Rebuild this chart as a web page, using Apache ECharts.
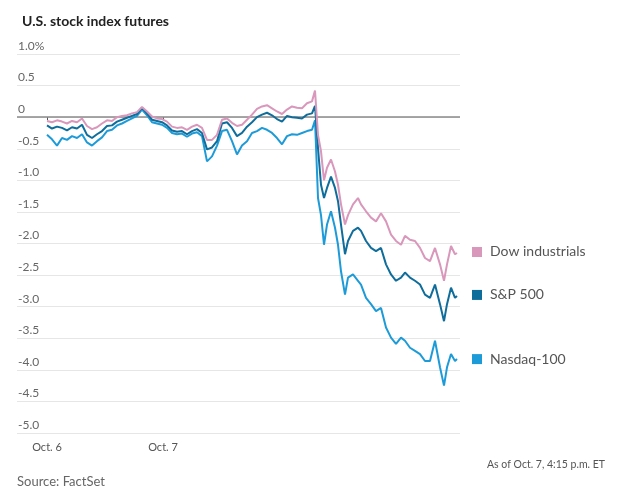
<!DOCTYPE html>
<html><head><meta charset="utf-8">
<script src="https://cdn.jsdelivr.net/npm/echarts@6/dist/echarts.min.js"></script>
<style>html,body{margin:0;padding:0;background:#fff}#c{width:630px;height:489px}</style>
</head><body><div id="c"></div>
<script>
// session time of each sample (arbitrary units, 0 = Oct. 6)
const times = [0,5,10,15,20,25,30,35,40,45,50,55,60,65,70,75,80,85,90,95,
 100,105,110,115,120,125,130,135,140,145,150,155,160,165,170,175,180,185,190,195,
 200,205,210,215,220,225,230,235,240,245,250,255,260,
 265,268,271,274,277,280,284,288,291,294,298,301,306,311,314,319,324,329,334,339,
 344,349,354,358,363,368,373,378,383,388,393,397,400,404,408,410];
const tickTimes = [0, 116];
const tickLabels = ['Oct. 6', 'Oct. 7'];
const seriesNames = ['Dow industrials', 'S&P 500', 'Nasdaq-100'];
const dow = [-0.06,-0.08,-0.05,-0.07,-0.10,-0.06,-0.08,-0.02,-0.14,-0.19,-0.16,-0.10,-0.05,-0.06,0.00,0.02,0.03,0.06,0.08,0.16,
 0.09,0.01,-0.02,-0.03,-0.07,-0.15,-0.17,-0.16,-0.20,-0.15,-0.12,-0.17,-0.36,-0.36,-0.28,-0.04,-0.02,-0.09,-0.14,-0.12,
 -0.04,0.04,0.13,0.17,0.19,0.14,0.09,0.05,0.12,0.17,0.15,0.14,0.22,
 0.25,0.42,-0.28,-0.54,-1.00,-0.80,-0.67,-0.86,-1.07,-1.38,-1.70,-1.55,-1.38,-1.28,-1.38,-1.49,-1.59,-1.65,-1.52,-1.65,
 -1.86,-1.96,-2.02,-1.88,-1.94,-1.96,-2.07,-2.23,-2.28,-2.07,-2.33,-2.59,-2.33,-2.04,-2.17,-2.15];
const sp500 = [-0.13,-0.18,-0.15,-0.17,-0.21,-0.16,-0.18,-0.12,-0.28,-0.33,-0.27,-0.22,-0.14,-0.13,-0.07,-0.04,-0.01,0.02,0.05,0.15,
 0.06,-0.04,-0.06,-0.08,-0.13,-0.21,-0.23,-0.22,-0.27,-0.22,-0.19,-0.25,-0.51,-0.48,-0.38,-0.10,-0.08,-0.17,-0.30,-0.25,
 -0.15,-0.08,0.00,0.04,0.07,0.03,-0.03,-0.07,0.02,0.00,-0.01,-0.02,0.04,
 0.06,0.18,-0.49,-1.07,-1.28,-1.12,-0.94,-1.12,-1.33,-1.70,-2.17,-1.96,-1.80,-1.75,-1.80,-1.96,-2.07,-2.12,-2.07,-2.33,
 -2.49,-2.59,-2.54,-2.46,-2.54,-2.59,-2.65,-2.81,-2.86,-2.65,-2.96,-3.23,-2.96,-2.70,-2.86,-2.83];
const nasdaq = [-0.28,-0.35,-0.45,-0.33,-0.36,-0.30,-0.33,-0.27,-0.40,-0.45,-0.38,-0.32,-0.22,-0.20,-0.13,-0.10,-0.06,-0.02,0.02,0.12,
 0.03,-0.08,-0.10,-0.12,-0.17,-0.25,-0.27,-0.26,-0.31,-0.26,-0.24,-0.30,-0.70,-0.62,-0.45,-0.22,-0.20,-0.38,-0.59,-0.45,
 -0.38,-0.25,-0.22,-0.17,-0.20,-0.25,-0.33,-0.43,-0.30,-0.27,-0.28,-0.25,-0.22,
 -0.20,-0.05,-1.28,-1.55,-2.02,-1.70,-1.49,-1.75,-2.02,-2.44,-2.81,-2.54,-2.49,-2.59,-2.65,-2.86,-2.96,-3.07,-3.02,-3.33,
 -3.49,-3.59,-3.49,-3.54,-3.65,-3.70,-3.75,-3.86,-3.86,-3.54,-3.96,-4.25,-3.96,-3.75,-3.86,-3.83];
const yMin = -5.0, yMax = 1.0, yStep = 0.5;
const colors = ['#d997bb', '#0f6d9b', '#1d9bd8'];

const font = 'Lato, "Noto Sans", sans-serif';
function pairs(arr){ return arr.map((v,i)=>[times[i],v]); }
function mk(name, data, color, idx){
  return {
    name, type:'line', data: pairs(data), showSymbol:false, symbol:'none',
    lineStyle:{color, width:2}, itemStyle:{color}, z: 3 + (2-idx),
    endLabel:{show:true, distance:15, offset:[0, idx===2 ? 0 : -1],
      formatter:'{s|}{t|'+name+'}',
      rich:{s:{width:10,height:10,backgroundColor:color},
            t:{fontFamily:font,fontSize:14,color:'#555',padding:[0,0,0,8]}}}
  };
}
const series = [mk(seriesNames[0], dow, colors[0], 0), mk(seriesNames[1], sp500, colors[1], 1), mk(seriesNames[2], nasdaq, colors[2], 2)];
series[2].markLine = {silent:true, symbol:'none', label:{show:false},
  lineStyle:{color:'#8a8a8a', width:1.5, type:'solid'}, data:[{yAxis:0}], z:1};

const chart = echarts.init(document.getElementById('c'), null, {renderer:'canvas'});
chart.setOption({
  animation:false,
  title:{text:'U.S. stock index futures', left:17, top:9,
    textStyle:{fontFamily:font, fontSize:14, fontWeight:'bold', color:'#222'}},
  grid:{left:17, right:170, top:54, bottom:56, containLabel:false},
  xAxis:{type:'value', min:-30, max:413,
    splitLine:{show:false}, axisLine:{show:false},
    axisTick:{show:true, customValues:tickTimes, length:3, lineStyle:{color:'#555'}},
    axisLabel:{show:true, customValues:tickTimes, margin:9,
      formatter:(v)=>tickLabels[tickTimes.indexOf(v)] || '',
      fontFamily:font, fontSize:11, color:'#555'}},
  yAxis:{type:'value', min:yMin, max:yMax, interval:yStep,
    axisLine:{show:false}, axisTick:{show:false},
    splitLine:{lineStyle:{color:'#e6e6e6', width:1}},
    axisLabel:{inside:true, margin:1, verticalAlign:'bottom', padding:[0,0,2,0],
      fontFamily:font, fontSize:12, color:'#666',
      formatter:(v)=>{ if (Math.abs(v)<1e-9) return '0'; const s=v.toFixed(1); return v===yMax ? s+'%' : s; }}},
  graphic:[
    {type:'text', left:17, top:475, style:{text:'Source: FactSet', fontFamily:font, fontSize:13, fill:'#666'}},
    {type:'text', right:25, top:459, style:{text:'As of Oct. 7, 4:15 p.m. ET', fontFamily:font, fontSize:10.5, fill:'#555'}}
  ],
  series
});
</script></body></html>
